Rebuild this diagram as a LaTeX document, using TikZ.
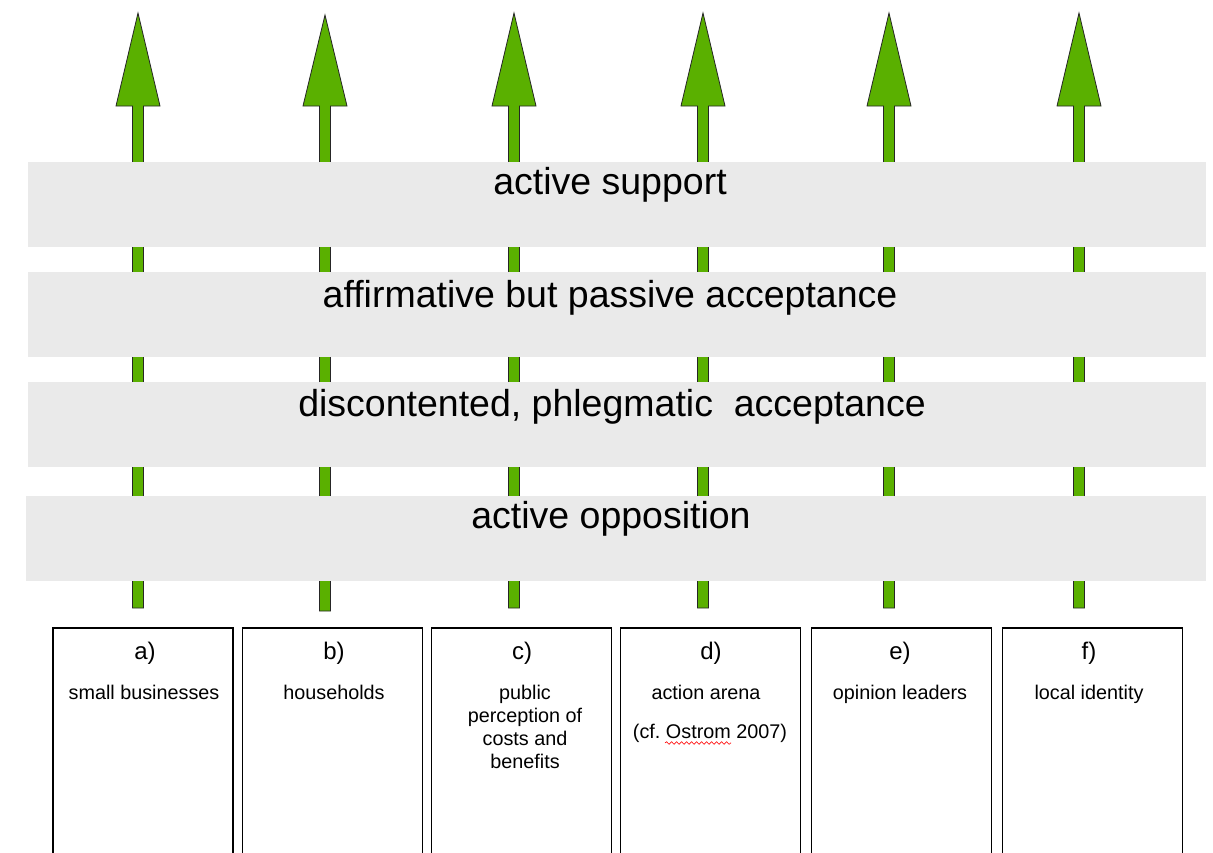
\documentclass[tikz,border=0pt]{standalone}
\usepackage{fontspec}
\setmainfont{Liberation Sans}
\usetikzlibrary{decorations.pathmorphing}
\definecolor{arrowgreen}{HTML}{5AB000}
\definecolor{bandgrey}{HTML}{EAEAEA}
\tikzset{
  arrowshape/.style={fill=arrowgreen, draw=black!85, line width=0.8pt, line join=miter},
  band/.style={fill=bandgrey, draw=none, rectangle, minimum width=1178pt, minimum height=85pt, inner sep=0pt},
  bandtext/.style={font=\fontsize{37.5}{42}\selectfont, inner sep=0pt},
  factorbox/.style={draw=black, line width=1.8pt, rectangle, minimum width=180pt, minimum height=250pt, inner sep=0pt},
  boxlabel/.style={font=\fontsize{24}{27}\selectfont, inner sep=0pt},
  boxtext/.style={font=\fontsize{19.8}{23}\selectfont, align=center, inner sep=0pt, anchor=north},
  spell/.style={draw=red, line width=0.6pt, decorate, decoration={snake, amplitude=1.3pt, segment length=5pt}}
}
\begin{document}
\begin{tikzpicture}[x=1pt,y=-1pt]
\clip (0,0) rectangle (1213,852);
\useasboundingbox (0,0) rectangle (1213,852);
% arrows
\foreach \x/\t/\b in {138/13/608, 325/15/611, 514/13/608, 703/13/608, 889/13/608, 1079/13/608}{
  \draw[arrowshape] (\x,\t) -- (\x+22,106) -- (\x+5.5,106) -- (\x+5.5,\b) -- (\x-5.5,\b) -- (\x-5.5,106) -- (\x-22,106) -- cycle;
}
% bands
\node[band] (band1) at (617,204.5) {};
\node[band] (band2) at (617,314.5) {};
\node[band] (band3) at (617,424.5) {};
\node[band, minimum width=1180pt] (band4) at (616,538) {};
\node[bandtext] (t1) at (610,185) {active support};
\node[bandtext] (t2) at (610,298) {affirmative but passive acceptance};
\node[bandtext] (t3) at (612,407) {discontented, phlegmatic\ \ acceptance};
\node[bandtext] (t4) at (611,519) {active opposition};
% boxes
\node[factorbox, anchor=north] (boxa) at (143,627) {};
\node[factorbox, anchor=north] (boxb) at (332.5,627) {};
\node[factorbox, anchor=north] (boxc) at (521.5,627) {};
\node[factorbox, anchor=north] (boxd) at (710.5,627) {};
\node[factorbox, anchor=north] (boxe) at (901.5,627) {};
\node[factorbox, anchor=north] (boxf) at (1092.5,627) {};
% labels
\node[boxlabel] (la) at (145,653) {a)};
\node[boxlabel] (lb) at (334,653) {b)};
\node[boxlabel] (lc) at (522,653) {c)};
\node[boxlabel] (ld) at (711,653) {d)};
\node[boxlabel] (le) at (900,653) {e)};
\node[boxlabel] (lf) at (1089,653) {f)};
\node[boxtext] (da) at (144,685) {small businesses};
\node[boxtext] (db) at (334,685) {households};
\node[boxtext] (dc) at (525,685) {public\\perception of\\costs and\\benefits};
\node[boxtext] (dd) at (706,685) {action arena};
\node[boxtext] (dd2) at (710,724) {(cf.\ Ostrom 2007)};
\node[boxtext] (de) at (900,685) {opinion leaders};
\node[boxtext] (df) at (1089,685) {local identity};
\draw[spell] (665,743) -- (731,743);
\end{tikzpicture}
\end{document}
